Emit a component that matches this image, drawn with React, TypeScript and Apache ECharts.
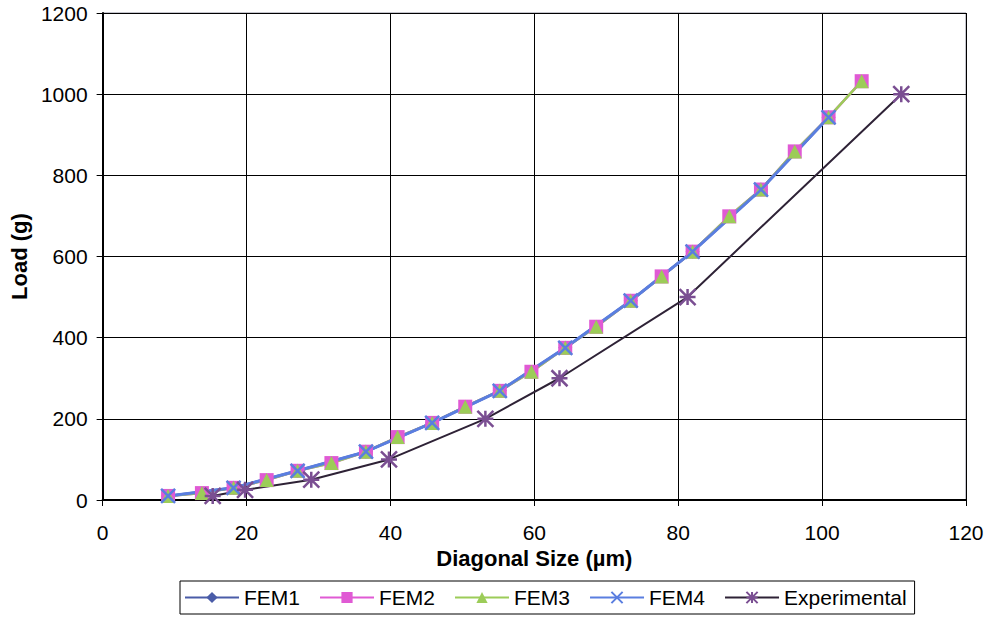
import React, { useEffect, useRef } from "react";
import * as echarts from "echarts";

const femX = [9.1, 13.8, 18.2, 22.8, 27.1, 31.8, 36.6, 41.0, 45.8, 50.4, 55.2, 59.6, 64.3, 68.6, 73.4, 77.7, 82.0, 87.1, 91.5, 96.2, 100.9, 105.5];
const femLoad = [10, 17, 30, 49, 72, 91, 119, 155, 190, 230, 269, 316, 375, 427, 491, 551, 612, 699, 765, 859, 943, 1032];
// FEM1 and FEM4 points (every other point, ending at 100.9)
const femOddX = [9.1, 18.2, 27.1, 36.6, 45.8, 55.2, 64.3, 73.4, 82.0, 91.5, 100.9];
const femOddLoad = [10, 30, 72, 119, 190, 269, 375, 491, 612, 765, 943];
const expX = [15.3, 19.8, 29.0, 39.8, 53.2, 63.5, 81.3, 111.0];
const expLoad = [10, 25, 50, 100, 200, 300, 500, 1000];

const seriesNames = ["FEM1", "FEM2", "FEM3", "FEM4", "Experimental"];
const colors = ["#4a5ca8", "#e05ad4", "#9ccc58", "#5a7ee0", "#7a4e92"];

const zip = (xs: number[], ys: number[]) => xs.map((x, i) => [x, ys[i]]);

export default function App() {
  const ref = useRef<HTMLDivElement>(null);
  useEffect(() => {
    if (!ref.current) return;
    const chart = echarts.init(ref.current, undefined, { renderer: "svg" });
    const font = "'Liberation Sans', Arial, sans-serif";
    chart.setOption({
      animation: false,
      backgroundColor: "#ffffff",
      textStyle: { fontFamily: font },
      grid: {
        left: 97,
        right: 27,
        top: 13,
        bottom: 118,
        show: true,
        borderColor: "#8a8a9a",
        borderWidth: 1,
      },
      legend: {
        left: 180,
        top: 581,
        data: seriesNames,
        borderColor: "#000",
        borderWidth: 1,
        padding: [6, 8, 6, 4],
        itemWidth: 54,
        itemHeight: 14,
        itemGap: 19,
        textStyle: { fontSize: 21, color: "#000", fontFamily: font },
      },
      xAxis: {
        type: "value",
        min: 0,
        max: 120,
        interval: 20,
        name: "Diagonal Size (\u00b5m)",
        nameLocation: "middle",
        nameGap: 42,
        nameTextStyle: { fontSize: 22, fontWeight: "bold", color: "#000" },
        axisLine: { show: true, onZero: false, lineStyle: { color: "#000", width: 2 } },
        axisTick: { show: true, inside: false, length: 6, lineStyle: { color: "#000" } },
        axisLabel: { fontSize: 21, color: "#000", margin: 22 },
        splitLine: { show: true, lineStyle: { color: "#000", width: 1 } },
      },
      yAxis: {
        type: "value",
        min: 0,
        max: 1200,
        interval: 200,
        name: "Load (g)",
        nameLocation: "middle",
        nameGap: 53,
        nameTextStyle: { fontSize: 22, fontWeight: "bold", color: "#000" },
        axisLine: { show: true, lineStyle: { color: "#000", width: 2 } },
        axisTick: { show: true, inside: false, length: 6, lineStyle: { color: "#000" } },
        axisLabel: { fontSize: 21, color: "#000", margin: 15, formatter: (v: number) => String(v) },
        splitLine: { show: true, lineStyle: { color: "#000", width: 1 } },
      },
      series: [
        {
          name: "FEM1",
          type: "line",
          data: zip(femOddX, femOddLoad),
          symbol: "diamond",
          symbolSize: 14,
          color: colors[0],
          lineStyle: { width: 2.5, color: colors[0] },
          itemStyle: { color: colors[0] },
        },
        {
          name: "FEM2",
          type: "line",
          data: zip(femX, femLoad),
          symbol: "rect",
          symbolSize: 14,
          color: colors[1],
          lineStyle: { width: 2.5, color: colors[1] },
          itemStyle: { color: colors[1] },
        },
        {
          name: "FEM3",
          type: "line",
          data: zip(femX, femLoad),
          symbol: "triangle",
          symbolSize: 14,
          color: colors[2],
          lineStyle: { width: 2.5, color: colors[2] },
          itemStyle: { color: colors[2] },
        },
        {
          name: "FEM4",
          type: "line",
          data: zip(femOddX, femOddLoad),
          symbol: "path://M0,0 L10,10 M10,0 L0,10",
          symbolSize: 14,
          color: colors[3],
          lineStyle: { width: 3, color: colors[3] },
          itemStyle: { color: "none", borderColor: colors[3], borderWidth: 2.5 },
        },
        {
          name: "Experimental",
          type: "line",
          data: zip(expX, expLoad),
          symbol: "path://M5,0 L5,10 M0,0 L10,10 M10,0 L0,10 M0,5 L10,5",
          symbolSize: 16,
          color: colors[4],
          lineStyle: { width: 2, color: "#2e2236" },
          itemStyle: { color: "none", borderColor: colors[4], borderWidth: 2.5 },
        },
      ],
    });
    return () => chart.dispose();
  }, []);
  return <div ref={ref} style={{ width: 993, height: 618, position: "absolute", left: 0, top: 0 }} />;
}
